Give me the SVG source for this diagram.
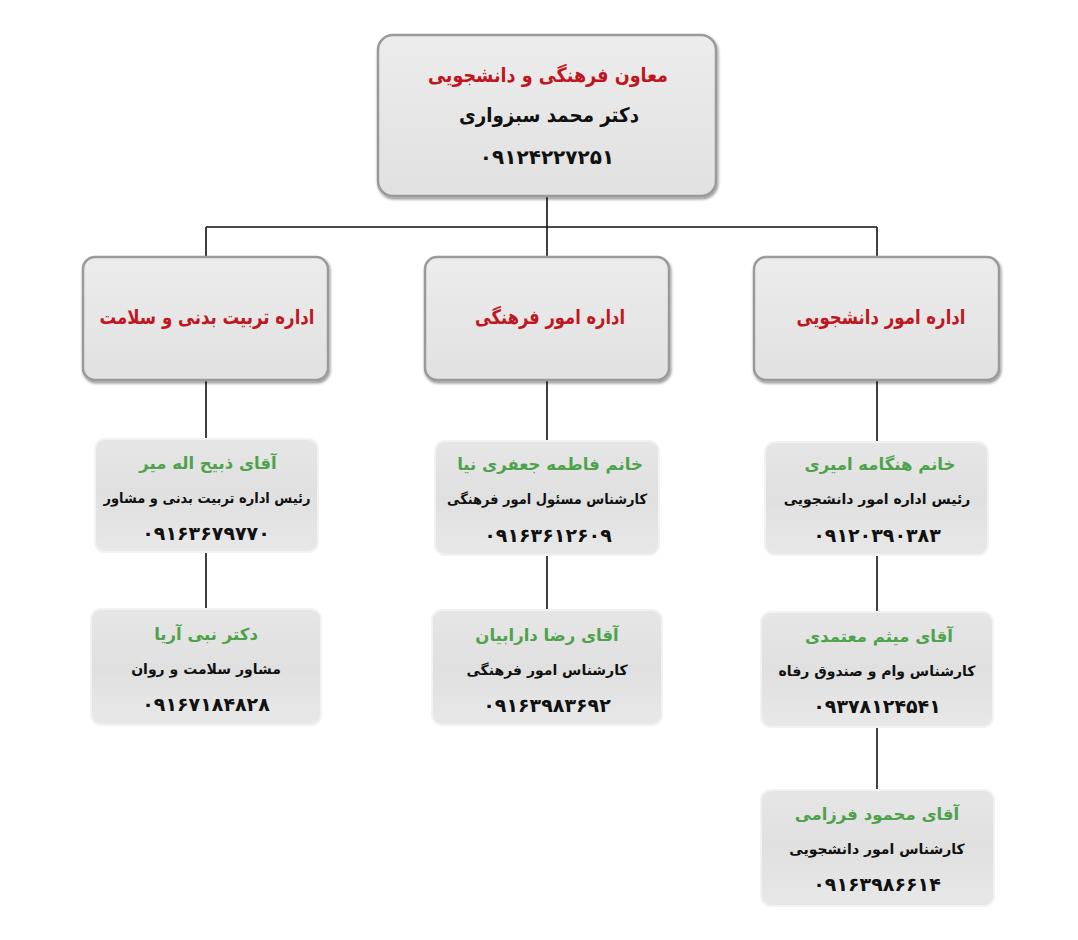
<svg xmlns="http://www.w3.org/2000/svg" width="1078" height="940" viewBox="0 0 1078 940">
<defs>
<linearGradient id="g1" x1="0" y1="0" x2="0" y2="1">
<stop offset="0" stop-color="#ececec"/><stop offset="1" stop-color="#e2e1e2"/>
</linearGradient>
<linearGradient id="g2" x1="0" y1="0" x2="0" y2="1">
<stop offset="0" stop-color="#e6e6e6"/><stop offset="0.5" stop-color="#e0e0e0"/><stop offset="1" stop-color="#e8e8e8"/>
</linearGradient>
<filter id="sh" x="-10%" y="-10%" width="120%" height="130%">
<feGaussianBlur in="SourceAlpha" stdDeviation="1.5"/>
<feOffset dx="1" dy="2"/>
<feComponentTransfer><feFuncA type="linear" slope="0.45"/></feComponentTransfer>
<feMerge><feMergeNode/><feMergeNode in="SourceGraphic"/></feMerge>
</filter>
</defs>
<style>
.big{fill:url(#g1);stroke:#9a9a9a;stroke-width:2.5;filter:url(#sh)}
.small{fill:url(#g2);stroke:#f2f2f2;stroke-width:2}
.t{font-family:"DejaVu Sans",sans-serif;font-weight:bold;text-anchor:middle}
.red{fill:#c0161e;font-size:20px}
.blk{fill:#111;font-size:20px}
.ph{fill:#111;font-size:20px}
.grn{fill:#4ea24c;font-size:16.5px}
.role{fill:#111;font-size:14px}
.ph2{fill:#111;font-size:19px}
.ln{stroke:#111;stroke-width:1.6;fill:none}
</style>
<rect width="1078" height="940" fill="#ffffff"/>
<g id="connectors">
<path class="ln" d="M547 196V227M206 227H877M206 227V258M547 227V258M877 227V258"/>
<path class="ln" d="M206 380V439M547 380V441M877 380V442"/>
<path class="ln" d="M206 552V609M547 555V610M877 555V612"/>
<path class="ln" d="M877 727V790"/>
</g>
<g id="n0">
<rect class="big" x="378" y="35" width="338" height="161" rx="15"/>
<text class="t red" x="548" y="82" textLength="240" lengthAdjust="spacingAndGlyphs">معاون فرهنگی و دانشجویی</text>
<text class="t blk" x="549" y="122" textLength="180" lengthAdjust="spacingAndGlyphs">دکتر محمد سبزواری</text>
<text class="t ph" x="547" y="164">۰۹۱۲۴۲۲۷۲۵۱</text>
</g>
<g id="n1">
<rect class="big" x="83" y="257" width="245" height="123" rx="12"/>
<text class="t red" x="207" y="324" textLength="215" lengthAdjust="spacingAndGlyphs">اداره تربیت بدنی و سلامت</text>
</g>
<g id="n2">
<rect class="big" x="425" y="257" width="244" height="123" rx="12"/>
<text class="t red" x="550" y="324" textLength="150" lengthAdjust="spacingAndGlyphs">اداره امور فرهنگی</text>
</g>
<g id="n3">
<rect class="big" x="754" y="257" width="245" height="123" rx="12"/>
<text class="t red" x="881" y="324" textLength="169" lengthAdjust="spacingAndGlyphs">اداره امور دانشجویی</text>
</g>
<g id="n4">
<rect class="small" x="95" y="439" width="223" height="113" rx="10"/>
<text class="t grn" x="208" y="469">آقای ذبیح اله میر</text>
<text class="t role" x="207" y="503" textLength="207" lengthAdjust="spacingAndGlyphs">رئیس اداره تربیت بدنی و مشاور</text>
<text class="t ph2" x="206" y="540">۰۹۱۶۳۶۷۹۷۷۰</text>
</g>
<g id="n5">
<rect class="small" x="91" y="609" width="230" height="116" rx="10"/>
<text class="t grn" x="206" y="640">دکتر نبی آریا</text>
<text class="t role" x="206" y="674">مشاور سلامت و روان</text>
<text class="t ph2" x="206" y="711">۰۹۱۶۷۱۸۴۸۲۸</text>
</g>
<g id="n6">
<rect class="small" x="435" y="441" width="224" height="114" rx="10"/>
<text class="t grn" x="550" y="470">خانم  فاطمه جعفری نیا</text>
<text class="t role" x="547" y="504" textLength="200" lengthAdjust="spacingAndGlyphs">کارشناس مسئول امور فرهنگی</text>
<text class="t ph2" x="548" y="542">۰۹۱۶۳۶۱۲۶۰۹</text>
</g>
<g id="n7">
<rect class="small" x="432" y="610" width="230" height="115" rx="10"/>
<text class="t grn" x="547" y="641">آقای رضا دارابیان</text>
<text class="t role" x="547" y="675">کارشناس امور فرهنگی</text>
<text class="t ph2" x="547" y="712">۰۹۱۶۳۹۸۳۶۹۲</text>
</g>
<g id="n8">
<rect class="small" x="765" y="442" width="223" height="113" rx="10"/>
<text class="t grn" x="880" y="470">خانم هنگامه امیری</text>
<text class="t role" x="877" y="504">رئیس اداره امور دانشجویی</text>
<text class="t ph2" x="877" y="542">۰۹۱۲۰۳۹۰۳۸۳</text>
</g>
<g id="n9">
<rect class="small" x="761" y="612" width="232" height="115" rx="10"/>
<text class="t grn" x="879" y="642">آقای میثم معتمدی</text>
<text class="t role" x="877" y="676">کارشناس وام و صندوق رفاه</text>
<text class="t ph2" x="877" y="713">۰۹۳۷۸۱۲۴۵۴۱</text>
</g>
<g id="n10">
<rect class="small" x="761" y="790" width="233" height="116" rx="10"/>
<text class="t grn" x="877" y="820">آقای محمود فرزامی</text>
<text class="t role" x="877" y="854">کارشناس امور دانشجویی</text>
<text class="t ph2" x="877" y="891">۰۹۱۶۳۹۸۶۶۱۴</text>
</g>
</svg>
